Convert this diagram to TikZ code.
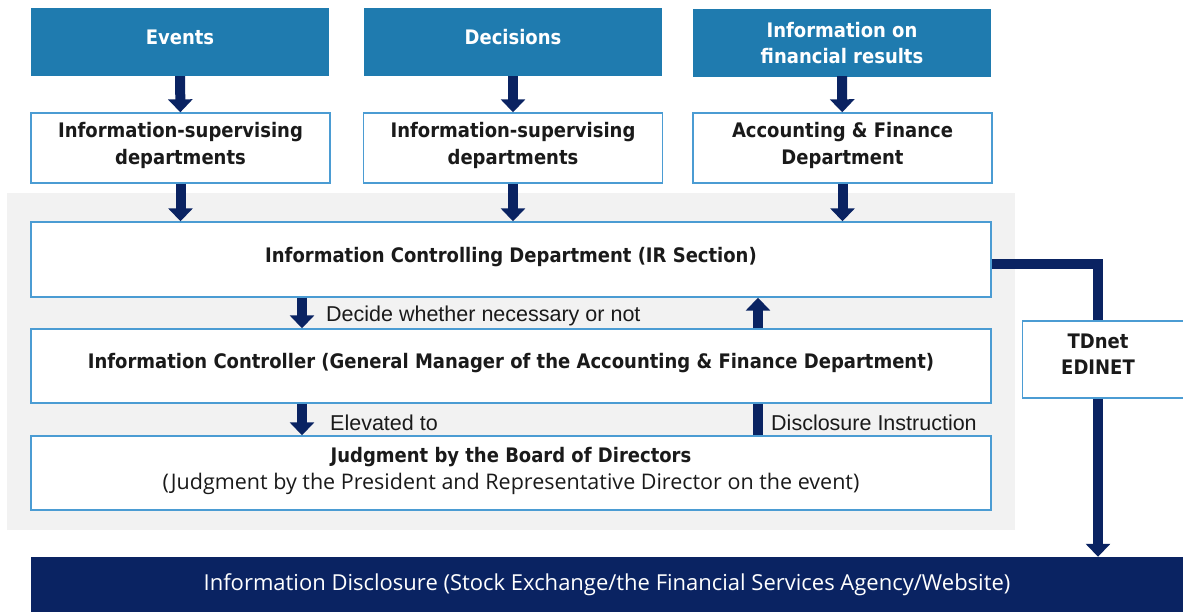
\documentclass[tikz,border=0pt]{standalone}
\usepackage{fontspec}
\setmainfont{Liberation Sans}
\newfontfamily\boxfont{DejaVu Sans Condensed}
\newfontfamily\notefont{Open Sans}
\newfontfamily\barfont{Open Sans}
\usetikzlibrary{arrows.meta,positioning}
\definecolor{topblue}{HTML}{1F7BAF}
\definecolor{navy}{HTML}{0A2362}
\definecolor{edgeblue}{HTML}{4B9CD3}
\definecolor{panelgrey}{HTML}{F2F2F2}
\definecolor{inktext}{HTML}{1A1A1A}
\tikzset{
  srcbox/.style={fill=topblue, text=white, font=\boxfont\bfseries\fontsize{20}{26}\selectfont,
    minimum width=298, minimum height=68, inner sep=0, text depth=10pt, align=center},
  deptbox/.style={draw=edgeblue, line width=1.4, fill=white, text=inktext,
    font=\boxfont\bfseries\fontsize{20}{27}\selectfont,
    minimum width=299, minimum height=70, inner sep=0, text depth=10pt, align=center},
  widebox/.style={deptbox, minimum width=960, minimum height=75},
  boxtext/.style={text=inktext, font=\boxfont\bfseries\fontsize{20}{26}\selectfont, inner sep=0, text depth=10pt, align=center},
  note/.style={text=inktext, font=\fontsize{21.5}{24}\selectfont, inner sep=0},
  barbox/.style={fill=navy, text=white, font=\barfont\fontsize{22}{26}\selectfont,
    minimum width=1152, minimum height=55, inner sep=0},
  flow/.style={navy, line width=10, -{Triangle[width=24pt,length=13pt]}},
  bar/.style={navy, line width=10}
}
\begin{document}
\begin{tikzpicture}[x=1pt,y=-1pt]
    \useasboundingbox (0,0) rectangle (1183,612);
    \fill[panelgrey] (7,193) rectangle (1015,530);
    \node[srcbox] (events) at (180,42) {Events};
    \node[srcbox] (decisions) at (513,42) {Decisions};
    \node[srcbox, text depth=0pt] (results) at (842,43) {Information on\\financial results};
    \node[deptbox] (deptA) at (180.5,148) {Information-supervising\\departments};
    \node[deptbox] (deptB) at (513,148) {Information-supervising\\departments};
    \node[deptbox] (deptC) at (842.5,148) {Accounting \& Finance\\Department};
    \node[widebox] (ctrl) at (511,259.5) {Information Controlling Department (IR Section)};
    \node[widebox, minimum height=74] (controller) at (511,366) {Information Controller (General Manager of the Accounting \& Finance Department)};
    \node[widebox, minimum height=74] (judg) at (511,473) {Judgment by the Board of Directors\\{\notefont\mdseries\fontsize{21.5}{27}\selectfont (Judgment by the President and Representative Director on the event)}};
    \node[deptbox, minimum width=172, minimum height=77, anchor=west] (tdbox) at (1022,359.5) {};
    \node[boxtext] (tdtext) at (1098,359.5) {TDnet\\EDINET};
    \node[barbox] (disc) at (607,584.5) {Information Disclosure (Stock Exchange/the Financial Services Agency/Website)};
    \coordinate (colA) at (302,0);
    \coordinate (colB) at (758,0);
    \draw[flow] (events) -- (deptA);
    \draw[flow] (decisions) -- (deptB);
    \draw[flow] (results.south |- events.south) -- (deptC);
    \draw[flow] (deptA) -- (deptA |- ctrl.north);
    \draw[flow] (deptB) -- (deptB |- ctrl.north);
    \draw[flow] (deptC) -- (deptC |- ctrl.north);
    \draw[flow] (ctrl.south -| colA) -- (controller.north -| colA);
    \draw[flow] (controller.north -| colB) -- (ctrl.south -| colB);
    \draw[flow] (controller.south -| colA) -- (judg.north -| colA);
    \draw[bar] (judg.north -| colB) -- (controller.south -| colB);
    \node[note, anchor=west] (decide) at (326,316) {Decide whether necessary or not};
    \node[note, anchor=west] (elevated) at (330,423) {Elevated to};
    \node[note, anchor=west] (instruct) at (771,423) {Disclosure Instruction};
    \draw[bar] ([yshift=-5pt]ctrl.east) -| (tdtext |- tdbox.north);
    \draw[flow] (tdtext |- tdbox.south) -- (tdtext |- disc.north);
\end{tikzpicture}
\end{document}
